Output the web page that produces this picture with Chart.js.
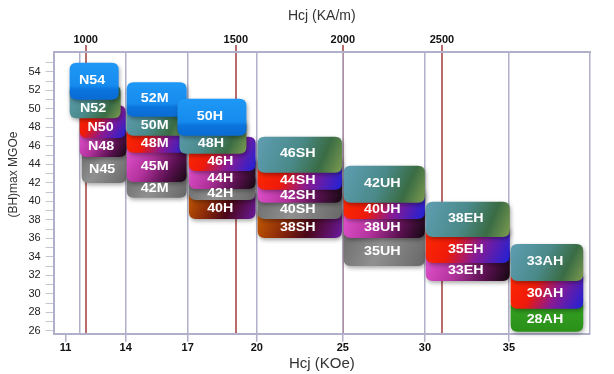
<!DOCTYPE html>
<html>
<head>
<meta charset="utf-8">
<script src="https://cdn.jsdelivr.net/npm/chart.js@4.4.0/dist/chart.umd.min.js"></script>
<style>
  html, body { margin: 0; padding: 0; background: #fff; }
  #wrap { width: 614px; height: 374px; }
</style>
</head>
<body>
<div id="wrap"><canvas id="chart"></canvas></div>
<script>
// grades, bottom block of each family first
var grades = ['N45', 'N48', 'N50', 'N52', 'N54',
    '42M', '45M', '48M', '50M', '52M',
    '40H', '42H', '44H', '46H', '48H', '50H',
    '38SH', '40SH', '42SH', '44SH', '46SH',
    '35UH', '38UH', '40UH', '42UH',
    '33EH', '35EH', '38EH',
    '28AH', '30AH', '33AH'];
// Hcj range of each block (kOe)
var hcjFrom = [11.8, 11.7, 11.7, 11.2, 11.2,
    14.05, 14.05, 14.05, 14.05, 14.05,
    17.05, 17.05, 17.05, 17.05, 16.6, 16.5,
    20.05, 20.05, 20.05, 20.05, 20.05,
    25.05, 25.05, 25.05, 25.05,
    30.05, 30.05, 30.05,
    35.1, 35.1, 35.1];
var hcjTo = [14.05, 14.05, 14.0, 13.75, 13.65,
    16.95, 16.95, 16.95, 16.95, 16.95,
    19.95, 19.95, 19.95, 19.95, 19.55, 19.55,
    24.95, 24.95, 24.95, 24.95, 24.95,
    30.0, 30.0, 30.0, 30.0,
    35.05, 35.05, 35.05,
    39.4, 39.4, 39.4];
// (BH)max range of each block (MGOe)
var bhFrom = [42.0, 44.8, 46.85, 49.0, 51.0,
    40.4, 42.1, 45.25, 47.1, 49.15,
    38.1, 40.15, 41.35, 43.3, 45.15, 47.1,
    36.05, 38.1, 39.85, 41.25, 43.1,
    33.0, 36.05, 38.1, 39.85,
    31.4, 33.35, 36.15,
    25.9, 28.4, 31.4];
var bhTo = [45.6, 48.0, 50.4, 52.6, 55.0,
    43.5, 46.2, 48.2, 50.5, 52.9,
    41.5, 43.0, 45.0, 47.0, 49.0, 51.1,
    39.5, 41.5, 43.0, 45.0, 47.0,
    37.0, 39.5, 41.5, 43.85,
    35.0, 37.5, 39.95,
    29.5, 32.5, 35.4];

var kOeTicks = [11, 14, 17, 20, 25, 30, 35];
var kOeGrid = [11.7, 14, 17, 20, 25, 30, 35, 39.8];
var kAmTicks = [1000, 1500, 2000, 2500];
var bhTicks = [26, 27, 28, 29, 30, 31, 32, 33, 34, 35, 36, 37, 38, 39, 40,
    41, 42, 43, 44, 45, 46, 47, 48, 49, 50, 51, 52, 53, 54, 55];

var blockStyle = ['gray', 'pink', 'red', 'teal', 'blue',
    'gray', 'pink', 'red', 'teal', 'blue',
    'orange', 'gray', 'pink', 'red', 'teal', 'blue',
    'orange', 'gray', 'pink', 'red', 'teal',
    'gray', 'pink', 'red', 'teal',
    'pink', 'red', 'teal',
    'green', 'red', 'teal'];

var frameColor = '#b0b0ca';
var redLine = '#b86c6c';

// the Hcj axes of the picture are not evenly spaced: value -> fraction of width
var axisBreaks = {
    x: { values: [10.4, 11, 14, 17, 20, 25, 30, 35, 39.8],
         at: [0, 0.0224, 0.1343, 0.25, 0.3787, 0.5392, 0.6922, 0.8489, 1] },
    xTop: { values: [893, 1000, 1500, 2000, 2500, 3250],
            at: [0, 0.0597, 0.3396, 0.5392, 0.7239, 1] }
};

class BrokenScale extends Chart.LinearScale {
    getPixelForValue(value) {
        var b = axisBreaks[this.id], v = b.values, a = b.at, i = 1;
        while (i < v.length - 1 && value > v[i]) i++;
        var f = a[i - 1] + (value - v[i - 1]) / (v[i] - v[i - 1]) * (a[i] - a[i - 1]);
        return this.getPixelForDecimal(f);
    }
    getValueForPixel(pixel) {
        var b = axisBreaks[this.id], v = b.values, a = b.at, i = 1;
        var f = this.getDecimalForPixel(pixel);
        while (i < a.length - 1 && f > a[i]) i++;
        return v[i - 1] + (f - a[i - 1]) / (a[i] - a[i - 1]) * (v[i] - v[i - 1]);
    }
}
BrokenScale.id = 'broken';
BrokenScale.defaults = {};
Chart.register(BrokenScale);

function blockFill(ctx, style, l, t, w, h) {
    var g;
    if (style === 'blue') {
        g = ctx.createLinearGradient(0, t, 0, t + h);
        g.addColorStop(0, '#1e98f6');
        g.addColorStop(0.62, '#168bef');
        g.addColorStop(0.72, '#0b74dd');
        g.addColorStop(1, '#0a6bd3');
        return g;
    }
    if (style === 'green') {
        g = ctx.createLinearGradient(0, t, 0, t + h);
        g.addColorStop(0, '#36a424');
        g.addColorStop(1, '#2a9018');
        return g;
    }
    if (style === 'gray') {
        g = ctx.createLinearGradient(l, t, l + w, t + h);
        g.addColorStop(0, '#6c6c6c');
        g.addColorStop(0.45, '#909090');
        g.addColorStop(1, '#676767');
        return g;
    }
    g = ctx.createLinearGradient(l, t, l + w, t + h);
    if (style === 'teal') {
        g.addColorStop(0, '#5e9eb2');
        g.addColorStop(0.45, '#4a8a8a');
        g.addColorStop(0.75, '#3a6c44');
        g.addColorStop(1, '#7e9c50');
    } else if (style === 'red') {
        g.addColorStop(0, '#ff2a00');
        g.addColorStop(0.35, '#ee1a0a');
        g.addColorStop(0.62, '#8a1a92');
        g.addColorStop(1, '#1c22d8');
    } else if (style === 'pink') {
        g.addColorStop(0, '#e654d2');
        g.addColorStop(0.4, '#b2329c');
        g.addColorStop(0.72, '#5a1050');
        g.addColorStop(1, '#140810');
    } else {
        g.addColorStop(0, '#c85e00');
        g.addColorStop(0.35, '#8a2a0a');
        g.addColorStop(0.62, '#4a0618');
        g.addColorStop(1, '#6a1aa0');
    }
    return g;
}

function roundBox(ctx, l, t, w, h, r) {
    ctx.beginPath();
    ctx.moveTo(l + r, t);
    ctx.lineTo(l + w - r, t);
    ctx.quadraticCurveTo(l + w, t, l + w, t + r);
    ctx.lineTo(l + w, t + h - r);
    ctx.quadraticCurveTo(l + w, t + h, l + w - r, t + h);
    ctx.lineTo(l + r, t + h);
    ctx.quadraticCurveTo(l, t + h, l, t + h - r);
    ctx.lineTo(l, t + r);
    ctx.quadraticCurveTo(l, t, l + r, t);
    ctx.closePath();
}

function family(g) {
    return g.replace(/[0-9]+/, '');
}

var blocksPlugin = {
    id: 'blocks',
    afterDatasetsDraw: function (chart) {
        var ctx = chart.ctx;
        var xs = chart.scales.x, ys = chart.scales.y;
        for (var i = 0; i < grades.length; i++) {
            var l = xs.getPixelForValue(hcjFrom[i]);
            var r = xs.getPixelForValue(hcjTo[i]);
            var t = ys.getPixelForValue(bhTo[i]);
            var b = ys.getPixelForValue(bhFrom[i]);
            ctx.save();
            ctx.shadowColor = 'rgba(0,0,0,0.35)';
            ctx.shadowBlur = 4;
            ctx.shadowOffsetX = 1;
            ctx.shadowOffsetY = 2;
            roundBox(ctx, l, t, r - l, b - t, 7);
            ctx.fillStyle = blockFill(ctx, blockStyle[i], l, t, r - l, b - t);
            ctx.fill();
            ctx.restore();
        }
        // labels sit in the part of each block that stays visible
        for (var j = 0; j < grades.length; j++) {
            var top = ys.getPixelForValue(bhTo[j]);
            if (j + 1 < grades.length && family(grades[j + 1]) === family(grades[j])) {
                top = ys.getPixelForValue(bhFrom[j + 1]);
            }
            var bottom = ys.getPixelForValue(bhFrom[j]);
            var cx = (xs.getPixelForValue(hcjFrom[j]) + xs.getPixelForValue(hcjTo[j])) / 2 - 2;
            var cy = (top + bottom) / 2 - 1;
            ctx.save();
            ctx.translate(cx, cy);
            ctx.scale(1.1, 1);
            ctx.font = 'bold 13px "Liberation Sans", Arial, sans-serif';
            ctx.fillStyle = '#ffffff';
            ctx.textAlign = 'center';
            ctx.textBaseline = 'middle';
            ctx.fillText(grades[j], 0, 0);
            ctx.restore();
        }
    }
};

Chart.defaults.font.family = '"Liberation Sans", Arial, sans-serif';
Chart.defaults.color = '#222';

new Chart(document.getElementById('chart'), {
    type: 'scatter',
    data: { datasets: [] },
    plugins: [blocksPlugin],
    options: {
        responsive: true,
        maintainAspectRatio: false,
        animation: false,
        layout: { padding: { left: 6, right: 24, top: 8, bottom: 1 } },
        plugins: { legend: { display: false }, tooltip: { enabled: false } },
        scales: {
            xTop: {
                type: 'broken',
                axis: 'x',
                position: 'top',
                min: 893,
                max: 3250,
                afterBuildTicks: function (s) {
                    s.ticks = kAmTicks.map(function (v) { return { value: v }; });
                },
                grid: { color: redLine, lineWidth: 2, tickLength: 7 },
                border: { display: true, color: frameColor, width: 2 },
                ticks: {
                    autoSkip: false, maxRotation: 0, padding: -2, color: '#111',
                    font: { size: 11, weight: 'bold' },
                    callback: function (v) { return String(v); }
                },
                title: { display: true, text: 'Hcj (KA/m)', font: { size: 14 }, color: '#333', padding: { top: 0, bottom: 11 } }
            },
            x: {
                type: 'broken',
                position: 'bottom',
                min: 10.4,
                max: 39.8,
                afterBuildTicks: function (s) {
                    var all = kOeTicks.concat(kOeGrid.filter(function (v) { return kOeTicks.indexOf(v) < 0; }));
                    all.sort(function (a, b) { return a - b; });
                    s.ticks = all.map(function (v) { return { value: v }; });
                },
                grid: {
                    lineWidth: 1.5,
                    tickLength: 8,
                    color: function (c) { return kOeGrid.indexOf(c.tick.value) < 0 ? 'rgba(0,0,0,0)' : frameColor; },
                    tickColor: function (c) { return kOeTicks.indexOf(c.tick.value) < 0 ? 'rgba(0,0,0,0)' : frameColor; }
                },
                border: { display: true, color: frameColor, width: 2 },
                ticks: {
                    autoSkip: false, maxRotation: 0, padding: 0, color: '#111',
                    font: { size: 11, weight: 'bold' },
                    callback: function (v) { return kOeTicks.indexOf(v) < 0 ? '' : String(v); }
                },
                title: { display: true, text: 'Hcj (KOe)', font: { size: 15 }, color: '#333', padding: { top: 0, bottom: 0 } }
            },
            y: {
                type: 'linear',
                min: 25.68,
                max: 56.16,
                afterBuildTicks: function (s) {
                    s.ticks = bhTicks.map(function (v) { return { value: v }; });
                },
                grid: { drawOnChartArea: false, tickLength: 8, tickColor: '#c4c4d4' },
                border: { display: true, color: frameColor, width: 2 },
                ticks: {
                    autoSkip: false, padding: 5, color: '#222',
                    font: { size: 11 },
                    callback: function (v) { return v % 2 === 0 ? String(v) : ''; }
                },
                title: { display: true, text: '           (BH)max MGOe', font: { size: 12 }, color: '#333', padding: { top: 0, bottom: 3 } }
            }
        }
    }
});
</script>
</body>
</html>
